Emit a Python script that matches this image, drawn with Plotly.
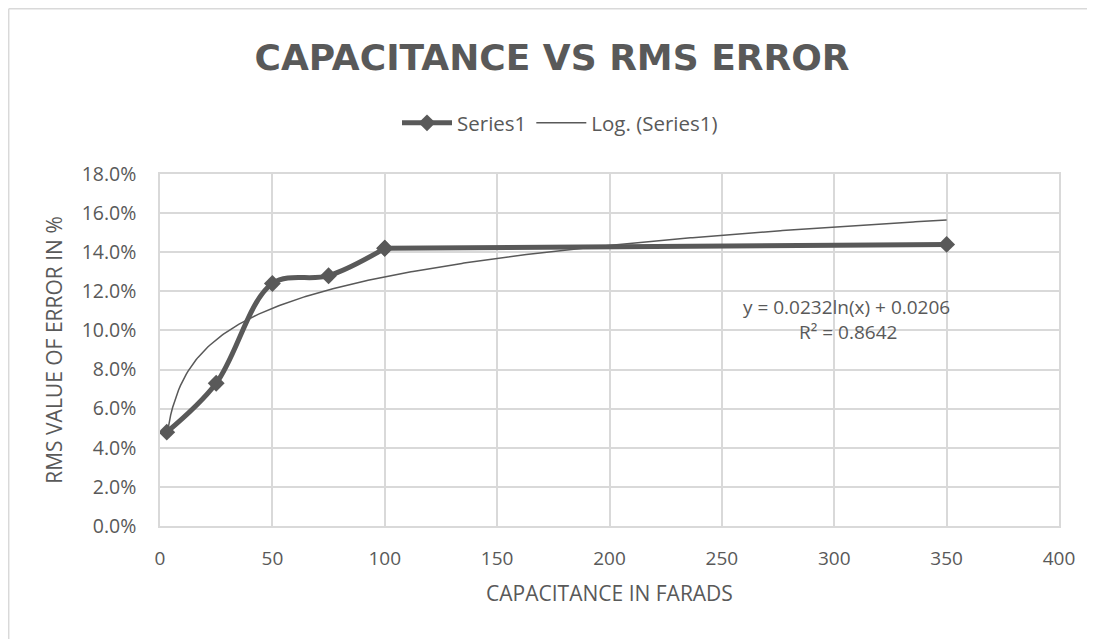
import numpy as np
import plotly.graph_objects as go

# Data
capacitance = [3, 25, 50, 75, 100, 350]
rms_error = [0.048, 0.073, 0.124, 0.128, 0.142, 0.144]

# Log trendline coefficients (as shown on chart)
fit_a = 0.0232
fit_b = 0.0206
fit_r2 = 0.8642

x_ticks = [0, 50, 100, 150, 200, 250, 300, 350, 400]
y_ticks = [0.0, 0.02, 0.04, 0.06, 0.08, 0.10, 0.12, 0.14, 0.16, 0.18]

TXT = "#595959"
GRID = "#d9d9d9"
LINE = "#595959"
FONT = "Open Sans"

xt = np.linspace(min(capacitance), max(capacitance), 400)
yt = fit_a * np.log(xt) + fit_b

# the page adds an 8px body margin; design in page coordinates
OFF = 8
W, H = 1095 - OFF, 639 - OFF
PL, PR, PT, PB = 160, 1059, 174, 526  # plot area in page pixels
L, R, T, B = PL - OFF, W - (PR - OFF), PT - OFF, H - (PB - OFF)
pw, ph = PR - PL, PB - PT

def px(x):
    return (x - PL) / pw

def py(y):
    return (PB - y) / ph

fig = go.Figure()
# smooth part (up to 100) and flat tail (100 -> 350)
fig.add_trace(go.Scatter(
    x=capacitance[:5], y=rms_error[:5], name="Series1", legendgroup="s1",
    mode="lines+markers",
    line=dict(color=LINE, width=5, shape="spline", smoothing=1),
    marker=dict(symbol="diamond", size=13, color=LINE),
))
fig.add_trace(go.Scatter(
    x=capacitance[4:], y=rms_error[4:], name="Series1", legendgroup="s1", showlegend=False,
    mode="lines+markers",
    line=dict(color=LINE, width=5, shape="spline", smoothing=0.3),
    marker=dict(symbol="diamond", size=13, color=LINE),
))
fig.add_trace(go.Scatter(
    x=xt, y=yt, name="Log. (Series1)", mode="lines",
    line=dict(color=LINE, width=1.5),
))

shapes = [
    # chart border (top and left)
    dict(type="line", xref="paper", yref="paper", x0=px(8.7), x1=px(1200), y0=py(8.7), y1=py(8.7),
         line=dict(color=GRID, width=1.5)),
    dict(type="line", xref="paper", yref="paper", x0=px(8.7), x1=px(8.7), y0=py(8.7), y1=py(700),
         line=dict(color=GRID, width=1.5)),
]

fig.update_layout(
    width=W, height=H,
    margin=dict(l=L, r=R, t=T, b=B),
    paper_bgcolor="white", plot_bgcolor="white",
    font=dict(family=FONT, color=TXT, size=19),
    title=dict(text="<b>CAPACITANCE VS RMS ERROR</b>", x=(552 - OFF) / W, xref="container",
               y=1 - (57 - OFF) / H, yref="container", yanchor="middle", xanchor="center",
               font=dict(family="DejaVu Sans", size=36, color=TXT)),
    showlegend=True,
    legend=dict(orientation="h", x=px(560), xanchor="center", y=py(123), yanchor="middle",
                font=dict(size=20.5, color=TXT), bgcolor="rgba(0,0,0,0)", itemwidth=50),
    xaxis=dict(range=[0, 400], tickvals=x_ticks, ticktext=[str(v) for v in x_ticks],
               showgrid=True, gridcolor=GRID, gridwidth=1.5, zeroline=False,
               showline=True, linecolor=GRID, linewidth=1.5, mirror=True,
               ticks="", tickfont=dict(size=19, color=TXT), ticklabelstandoff=14,
               title=dict(text="CAPACITANCE IN FARADS", font=dict(size=21, color=TXT), standoff=17)),
    yaxis=dict(range=[0, 0.18], tickvals=y_ticks, ticktext=[f"{v*100:.1f}%" for v in y_ticks],
               showgrid=True, gridcolor=GRID, gridwidth=1.5, zeroline=False,
               showline=True, linecolor=GRID, linewidth=1.5, mirror=True,
               ticks="", tickfont=dict(size=19.5, color=TXT), ticklabelstandoff=18,
               title=dict(text="RMS VALUE OF ERROR IN %", font=dict(size=21, color=TXT), standoff=13)),
    shapes=shapes,
    annotations=[
        dict(xref="paper", yref="paper", x=px(846), y=py(307), xanchor="center", yanchor="middle",
             text="y = 0.0232ln(x) + 0.0206", showarrow=False, font=dict(size=19, color=TXT)),
        dict(xref="paper", yref="paper", x=px(848), y=py(332), xanchor="center", yanchor="middle",
             text=f"R² = {fit_r2}", showarrow=False, font=dict(size=19, color=TXT)),
    ],
)

fig.write_html("out.html")
